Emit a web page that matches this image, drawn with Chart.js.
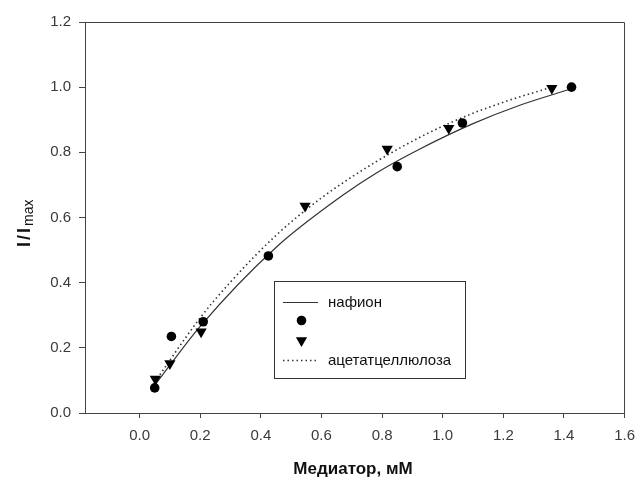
<!DOCTYPE html>
<html>
<head>
<meta charset="utf-8">
<script src="https://cdn.jsdelivr.net/npm/chart.js@4/dist/chart.umd.min.js"></script>
<style>
  html, body { margin: 0; padding: 0; background: #ffffff; }
  #c { display: block; }
</style>
</head>
<body>
<canvas id="c" width="644" height="480"></canvas>
<script>
// Measured points: normalised current vs mediator concentration
const nafionX  = [0.05, 0.105, 0.21, 0.425, 0.85, 1.065, 1.425];
const nafionY  = [0.077, 0.235, 0.28, 0.482, 0.756, 0.89, 1.0];
const acetateX = [0.052, 0.10, 0.203, 0.546, 0.817, 1.02, 1.36];
const acetateY = [0.104, 0.152, 0.249, 0.635, 0.81, 0.874, 0.997];

// Fitted curves
const nafionFitX  = [0.05, 0.2, 0.45, 0.67, 0.78, 0.92, 1.1, 1.25, 1.425];
const nafionFitY  = [0.085, 0.266, 0.508, 0.668, 0.736, 0.808, 0.888, 0.943, 0.995];
const acetateFitX = [0.05, 0.2, 0.3, 0.45, 0.6, 0.78, 0.95, 1.1, 1.22, 1.36];
const acetateFitY = [0.095, 0.292, 0.402, 0.545, 0.66, 0.771, 0.858, 0.92, 0.96, 1.0];

// Axis ticks
const xTicks = [0.0, 0.2, 0.4, 0.6, 0.8, 1.0, 1.2, 1.4, 1.6];
const yTicks = [0.0, 0.2, 0.4, 0.6, 0.8, 1.0, 1.2];

// Legend labels
const legendLabels = ['нафион', '', '', 'ацетатцеллюлоза'];

const pts = (xs, ys) => xs.map((x, i) => ({ x: x, y: ys[i] }));

const INK = '#333333';
const FONT = '"Liberation Sans", Arial, sans-serif';

const framePlugin = {
  id: 'frame',
  afterDraw(chart) {
    const { ctx, chartArea: a } = chart;
    ctx.save();
    // top and right edges of the plot box
    ctx.strokeStyle = '#444444';
    ctx.lineWidth = 1;
    ctx.beginPath();
    ctx.moveTo(Math.round(a.left) + 0.5, Math.round(a.top) + 0.5);
    ctx.lineTo(Math.round(a.right) - 0.5, Math.round(a.top) + 0.5);
    ctx.lineTo(Math.round(a.right) - 0.5, Math.round(a.bottom));
    ctx.stroke();

    // x axis title
    ctx.fillStyle = '#111111';
    ctx.font = 'bold 17px ' + FONT;
    ctx.textAlign = 'center';
    ctx.textBaseline = 'middle';
    ctx.fillText('Медиатор, мМ', 353, 469);

    // y axis title with subscript
    ctx.translate(30, 247);
    ctx.rotate(-Math.PI / 2);
    ctx.textAlign = 'left';
    ctx.textBaseline = 'alphabetic';
    ctx.font = 'bold 18px ' + FONT;
    const main = 'I/I';
    let w = 0;
    for (const ch of main) {
      ctx.fillText(ch, w, 0);
      w += ctx.measureText(ch).width + 2;
    }
    ctx.font = '14px ' + FONT;
    ctx.fillText('max', w, 3);
    ctx.restore();

    // legend
    const d = chart.data.datasets;
    const bx = 274.5, by = 281.5, bw = 191, bh = 97;
    ctx.save();
    ctx.fillStyle = '#ffffff';
    ctx.fillRect(bx, by, bw, bh);
    ctx.strokeStyle = '#333333';
    ctx.lineWidth = 1;
    ctx.strokeRect(bx, by, bw, bh);
    const rows = [302.5, 320.5, 340.5, 360.5];
    ctx.font = '15px ' + FONT;
    ctx.textBaseline = 'middle';
    ctx.textAlign = 'left';
    // solid line sample
    ctx.strokeStyle = d[0].borderColor;
    ctx.lineWidth = d[0].borderWidth;
    ctx.beginPath(); ctx.moveTo(283, rows[0]); ctx.lineTo(318, rows[0]); ctx.stroke();
    // circle sample
    ctx.fillStyle = d[2].backgroundColor;
    ctx.beginPath(); ctx.arc(301.5, rows[1], d[2].pointRadius, 0, Math.PI * 2); ctx.fill();
    // triangle sample (pointing down)
    const r = d[3].pointRadius;
    const tx = 301.5, ty = rows[2];
    ctx.fillStyle = d[3].backgroundColor;
    ctx.beginPath();
    ctx.moveTo(tx, ty + r);
    ctx.lineTo(tx - r * Math.sqrt(3) / 2, ty - r / 2);
    ctx.lineTo(tx + r * Math.sqrt(3) / 2, ty - r / 2);
    ctx.closePath(); ctx.fill();
    // dotted line sample
    ctx.strokeStyle = d[1].borderColor;
    ctx.lineWidth = d[1].borderWidth;
    ctx.setLineDash(d[1].borderDash);
    ctx.beginPath(); ctx.moveTo(283, rows[3]); ctx.lineTo(318, rows[3]); ctx.stroke();
    ctx.setLineDash([]);
    ctx.fillStyle = '#111111';
    legendLabels.forEach((t, i) => { if (t) ctx.fillText(t, 328, rows[i]); });
    ctx.restore();
  }
};

new Chart(document.getElementById('c'), {
  type: 'scatter',
  data: {
    datasets: [
      {
        type: 'line', label: 'нафион', data: pts(nafionFitX, nafionFitY),
        borderColor: INK, borderWidth: 1.2, pointRadius: 0, fill: false,
        cubicInterpolationMode: 'monotone', order: 2
      },
      {
        type: 'line', label: 'ацетатцеллюлоза', data: pts(acetateFitX, acetateFitY),
        borderColor: INK, borderWidth: 1.6, borderDash: [1.5, 3], pointRadius: 0, fill: false,
        cubicInterpolationMode: 'monotone', order: 2
      },
      {
        label: 'нафион', data: pts(nafionX, nafionY),
        pointStyle: 'circle', pointRadius: 4.8, backgroundColor: '#000000',
        borderColor: '#000000', borderWidth: 0, order: 1
      },
      {
        label: 'ацетатцеллюлоза', data: pts(acetateX, acetateY),
        pointStyle: 'triangle', rotation: 180, pointRotation: 180, pointRadius: 6.5,
        backgroundColor: '#000000', borderColor: '#000000', borderWidth: 0, order: 0
      }
    ]
  },
  options: {
    responsive: false,
    animation: false,
    layout: { padding: { top: 22, right: 12, left: 0, bottom: 0 } },
    plugins: { legend: { display: false }, tooltip: { enabled: false } },
    scales: {
      x: {
        type: 'linear', min: -0.18, max: 1.6,
        afterFit(s) { s.height = 67; },
        afterBuildTicks(s) { s.ticks = xTicks.map(v => ({ value: v })); },
        grid: { display: true, drawOnChartArea: false, drawTicks: true, tickLength: 5, color: '#444444' },
        border: { display: true, color: '#444444', width: 1 },
        ticks: {
          padding: 9, color: '#3a3a3a', maxRotation: 0, autoSkip: false,
          font: { family: FONT, size: 15 },
          callback: v => Number(v).toFixed(1)
        }
      },
      y: {
        type: 'linear', min: 0, max: 1.2,
        afterFit(s) { s.width = 85; },
        afterBuildTicks(s) { s.ticks = yTicks.map(v => ({ value: v })); },
        grid: { display: true, drawOnChartArea: false, drawTicks: true, tickLength: 6, color: '#444444' },
        border: { display: true, color: '#444444', width: 1 },
        ticks: {
          padding: 8, color: '#3a3a3a', autoSkip: false,
          font: { family: FONT, size: 15 },
          callback: v => Number(v).toFixed(1)
        }
      }
    }
  },
  plugins: [framePlugin]
});
</script>
</body>
</html>
